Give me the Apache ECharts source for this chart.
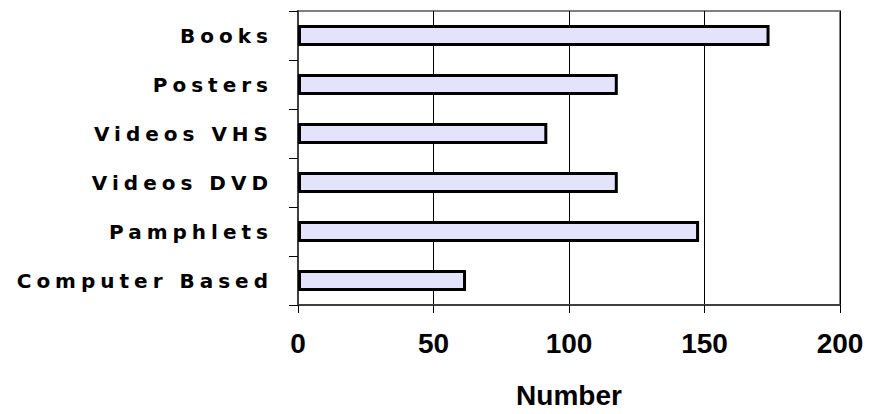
<!DOCTYPE html>
<html>
<head>
<meta charset="utf-8">
<script src="https://cdn.jsdelivr.net/npm/echarts@6/dist/echarts.min.js"></script>
<style>
  html, body { margin: 0; padding: 0; background: #ffffff; }
  #chart { width: 871px; height: 414px; }
  /* widely tracked category labels */
  #chart text[style*="20px"] { letter-spacing: 5px; }
</style>
</head>
<body>
<div id="chart"></div>
<script>
// Resource counts by format
const categories = ['Books', 'Posters', 'Videos VHS', 'Videos DVD', 'Pamphlets', 'Computer Based'];
const counts = [174, 118, 92, 118, 148, 62];
const xTicks = [0, 50, 100, 150, 200];

const chart = echarts.init(document.getElementById('chart'), null, { renderer: 'svg' });

chart.setOption({
  animation: false,
  backgroundColor: '#ffffff',
  grid: {
    left: 298, right: 31, top: 11, bottom: 108,
    show: true,
    borderColor: '#808080',
    borderWidth: 2,
    backgroundColor: 'transparent'
  },
  xAxis: {
    type: 'value',
    min: xTicks[0],
    max: xTicks[xTicks.length - 1],
    interval: xTicks[1] - xTicks[0],
    name: 'Number',
    nameLocation: 'middle',
    nameGap: 76,
    nameTextStyle: { fontFamily: 'Liberation Sans', fontWeight: 'bold', fontSize: 28, color: '#000000' },
    axisLine: { show: true, lineStyle: { color: '#404040', width: 2 } },
    axisTick: { show: true, length: 8, lineStyle: { color: '#000000', width: 1 } },
    axisLabel: { margin: 24, fontFamily: 'Liberation Sans', fontWeight: 'bold', fontSize: 28, color: '#000000' },
    splitLine: { show: true, lineStyle: { color: '#000000', width: 1 } }
  },
  yAxis: {
    type: 'category',
    data: categories,
    inverse: true,
    axisLine: { show: true, lineStyle: { color: '#404040', width: 2 } },
    axisTick: { show: true, length: 9, lineStyle: { color: '#000000', width: 1 } },
    axisLabel: { margin: 25, fontFamily: 'DejaVu Sans', fontWeight: 'bold', fontSize: 20, color: '#000000' },
    splitLine: { show: false }
  },
  series: [{
    type: 'bar',
    data: counts,
    barWidth: 21,
    itemStyle: { color: '#e3e3fb', borderColor: '#000000', borderWidth: 3 },
    label: { show: false }
  }]
});
</script>
</body>
</html>
